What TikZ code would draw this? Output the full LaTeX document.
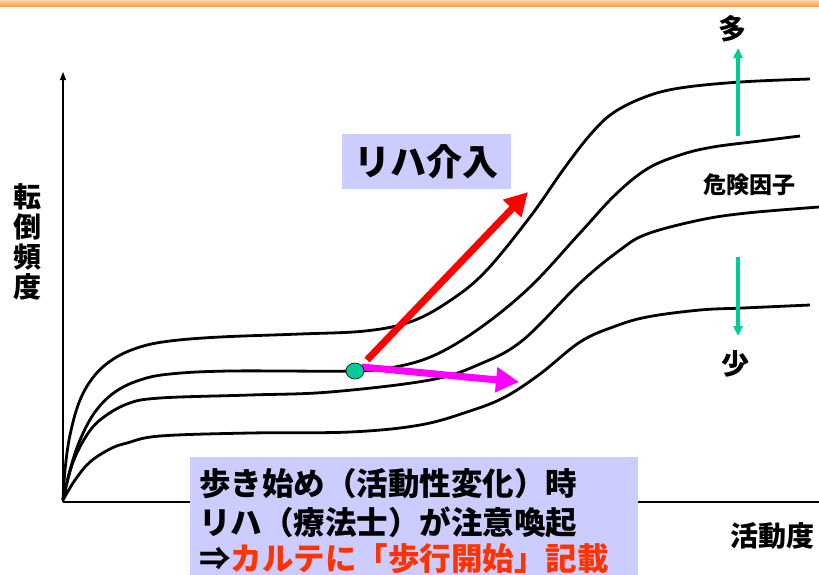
\documentclass[tikz,border=0pt]{standalone}
\usepackage{fontspec}
\newfontfamily\jp{Noto Sans CJK JP}
\usetikzlibrary{arrows.meta,shapes.geometric}
\definecolor{boxblue}{RGB}{204,204,255}
\definecolor{tealg}{RGB}{0,204,153}
\definecolor{redtxt}{RGB}{255,51,0}
\definecolor{pureRed}{RGB}{255,0,0}
\definecolor{pureMag}{RGB}{255,0,255}
\definecolor{orA}{RGB}{253,215,170}
\definecolor{orB}{RGB}{247,160,75}
\tikzset{
  curve/.style={line width=2.8pt, black, smooth, tension=0.6},
  axis/.style={line width=1.2pt, black},
  lbl/.style={font=\jp\bfseries\fontsize{28}{30}\selectfont, inner sep=0pt},
  small/.style={font=\jp\bfseries\fontsize{23}{26}\selectfont, inner sep=0pt},
  garrow/.style={line width=3.2pt, tealg, -{Triangle[length=10pt,width=9pt]}},
  bigarrow/.style={line width=7pt, -{Triangle[length=23pt,width=24pt]}},
  boxtxt/.style={font=\jp\bfseries\fontsize{31.5}{36}\selectfont, inner sep=0pt, anchor=west}
}
\begin{document}
\begin{tikzpicture}[x=1pt,y=-1pt]
\useasboundingbox (0,0) rectangle (819,574);
% top orange band
\shade[top color=orA, bottom color=orB] (0,0) rectangle (819,6);
% axes
\coordinate (O) at (63,502);
\coordinate (ytop) at (63,72);
\coordinate (xend) at (819,502);
\draw[axis, -{Triangle[length=8pt,width=6pt]}] (O) -- (ytop);
\draw[axis] (O) -- (xend);
% curves
\draw[curve] plot coordinates {(63,500) (65,470) (70,435) (80,400) (95,375) (115,358) (140,347) (170,341) (220,337) (300,334) (365,331) (410,322) (448,302) (485,272) (530,217) (563,170) (590,135) (613,113) (645,97) (680,88) (740,82) (810,79)};
\draw[curve] plot coordinates {(63,500) (70,470) (80,440) (95,412) (115,392) (140,380) (170,374) (230,371) (353,371) (395,367) (435,355) (480,328) (530,287) (580,233) (615,195) (647,169) (680,155) (713,147) (760,141) (800,136)};
\draw[curve] plot coordinates {(63,500) (72,465) (85,438) (100,420) (127,404) (160,398) (250,395) (330,392) (430,380) (480,364) (523,340) (580,283) (620,250) (647,234) (700,220) (747,213) (819,207)};
\draw[curve] plot coordinates {(63,500) (75,480) (90,462) (110,449) (127,443) (160,436) (250,433) (350,432) (420,425) (470,411) (505,397) (540,374) (580,342) (613,327) (647,317) (700,310) (743,308) (810,305)};
% arrows from the point
\coordinate (rs) at (367,360);
\coordinate (rt) at (528,192);
\coordinate (ms) at (362,367);
\coordinate (mt) at (519,382);
\draw[bigarrow, pureRed] (rs) -- (rt);
\draw[bigarrow, pureMag] (ms) -- (mt);
\node[ellipse, draw=black, line width=0.6pt, fill=tealg, minimum width=18pt, minimum height=16pt, inner sep=0pt] (dot) at (355,371) {};
% intervention box
\node[fill=boxblue, minimum width=169pt, minimum height=55pt, inner sep=0pt] (riha) at (426.5,161.5)
  {\jp\bfseries\fontsize{36}{38}\selectfont リハ介入};
% risk factor arrows
\coordinate (gu1) at (738,136);
\coordinate (gu2) at (738,48);
\coordinate (gd1) at (738,257);
\coordinate (gd2) at (738,336);
\draw[garrow] (gu1) -- (gu2);
\draw[garrow] (gd1) -- (gd2);
\node[lbl] (many) at (732,29) {多};
\node[lbl] (few) at (735,364) {少};
\node[small] (risk) at (749,185) {危険因子};
% axis labels
\node[lbl, align=center, font=\jp\bfseries\fontsize{28}{30}\selectfont] (ylab) at (27,242) {転\\倒\\頻\\度};
\node[lbl] (xlab) at (772,536) {活動度};
% bottom box
\node[fill=boxblue, anchor=north west, minimum width=448pt, minimum height=120pt, inner sep=0pt] (bbox) at (190,457) {};
\node[boxtxt] (l1) at (199,484) {歩き始め（活動性変化）時};
\node[boxtxt] (l2) at (199,522) {リハ（療法士）が注意喚起};
\node[boxtxt] (l3) at (199,559) {⇒\textcolor{redtxt}{カルテに「歩行開始」記載}};
\end{tikzpicture}
\end{document}
